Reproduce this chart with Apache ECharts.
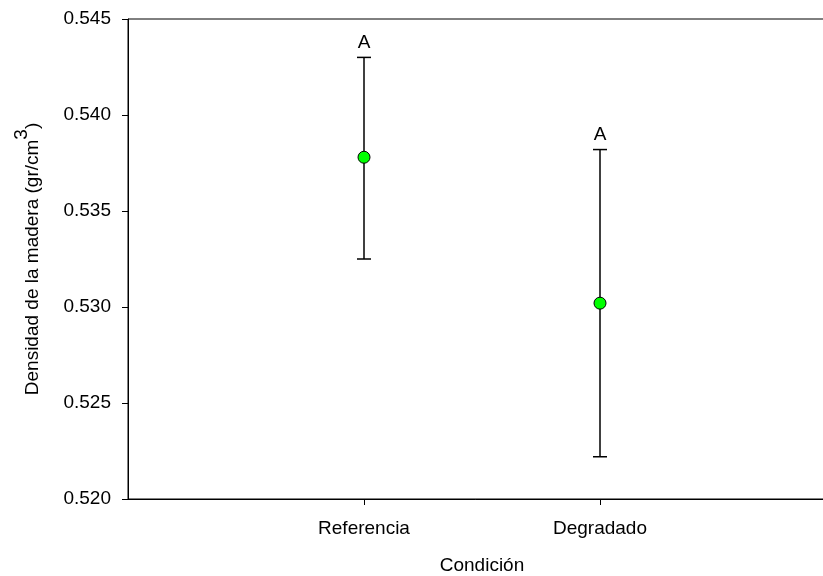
<!DOCTYPE html>
<html><head><meta charset="utf-8">
<script src="https://cdn.jsdelivr.net/npm/echarts@6/dist/echarts.min.js"></script>
<style>html,body{margin:0;padding:0;background:#fff}#c{width:823px;height:576px}</style>
</head><body><div id="c"></div>
<script>
const categories = ['Referencia', 'Degradado'];
const catPositions = [1, 2];
const means = [0.5378, 0.5302];
const upper = [0.5430, 0.5382];
const lower = [0.5325, 0.5222];
const letters = ['A', 'A'];
const yMin = 0.520, yMax = 0.545, yStep = 0.005;

const chart = echarts.init(document.getElementById('c'));
const font = 'Liberation Sans, Arial, sans-serif';
chart.setOption({
  animation: false,
  grid: { left: 128, width: 708, top: 19, height: 480, show: true, borderColor: '#000', borderWidth: 1,
    containLabel: false, outerBoundsMode: 'none' },
  xAxis: {
    type: 'value', min: 0, max: 3, interval: 1,
    name: 'Condición', nameLocation: 'middle', nameGap: 57,
    nameTextStyle: { fontFamily: font, fontSize: 19, color: '#000' },
    axisLine: { lineStyle: { color: '#000', width: 1 } },
    axisTick: { show: true, customValues: catPositions, length: 6, lineStyle: { color: '#000' } },
    axisLabel: { customValues: catPositions, margin: 20, fontFamily: font, fontSize: 19, color: '#000',
      formatter: v => categories[catPositions.indexOf(v)] || '' },
    splitLine: { show: false }
  },
  yAxis: {
    type: 'value', min: yMin, max: yMax, interval: yStep,
    name: '{a|Densidad de la madera (gr/cm}{s|3}{a|)}', nameLocation: 'middle', nameGap: 86, nameRotate: 90,
    nameTextStyle: { rich: {
      a: { fontFamily: font, fontSize: 19, color: '#000', lineHeight: 30, verticalAlign: 'bottom' },
      s: { fontFamily: font, fontSize: 19, color: '#000', lineHeight: 30, verticalAlign: 'top' }
    } },
    axisLine: { show: true, lineStyle: { color: '#000', width: 1 } },
    axisTick: { show: true, length: 6, lineStyle: { color: '#000' } },
    axisLabel: { margin: 17, fontFamily: font, fontSize: 19, color: '#000', formatter: v => v.toFixed(3) },
    splitLine: { show: false }
  },
  series: [
    {
      type: 'custom',
      data: catPositions.map((x, i) => [x, lower[i], upper[i]]),
      renderItem: function (params, api) {
        const x = api.value(0);
        const lo = api.coord([x, api.value(1)]);
        const hi = api.coord([x, api.value(2)]);
        const hw = 7;
        const st = { stroke: '#000', lineWidth: 1.5 };
        return { type: 'group', children: [
          { type: 'line', shape: { x1: lo[0], y1: lo[1], x2: hi[0], y2: hi[1] }, style: st },
          { type: 'line', shape: { x1: hi[0] - hw, y1: hi[1], x2: hi[0] + hw, y2: hi[1] }, style: st },
          { type: 'line', shape: { x1: lo[0] - hw, y1: lo[1], x2: lo[0] + hw, y2: lo[1] }, style: st },
          { type: 'text', style: { text: letters[params.dataIndex], x: hi[0], y: hi[1] - 5, align: 'center', verticalAlign: 'bottom',
            font: '19px ' + font, fill: '#000' } }
        ] };
      },
      z: 2
    },
    {
      type: 'scatter',
      data: catPositions.map((x, i) => [x, means[i]]),
      symbol: 'circle', symbolSize: 12,
      itemStyle: { color: '#00ff00', borderColor: '#000', borderWidth: 1, opacity: 1 },
      z: 3
    }
  ]
});
</script>
</body></html>
